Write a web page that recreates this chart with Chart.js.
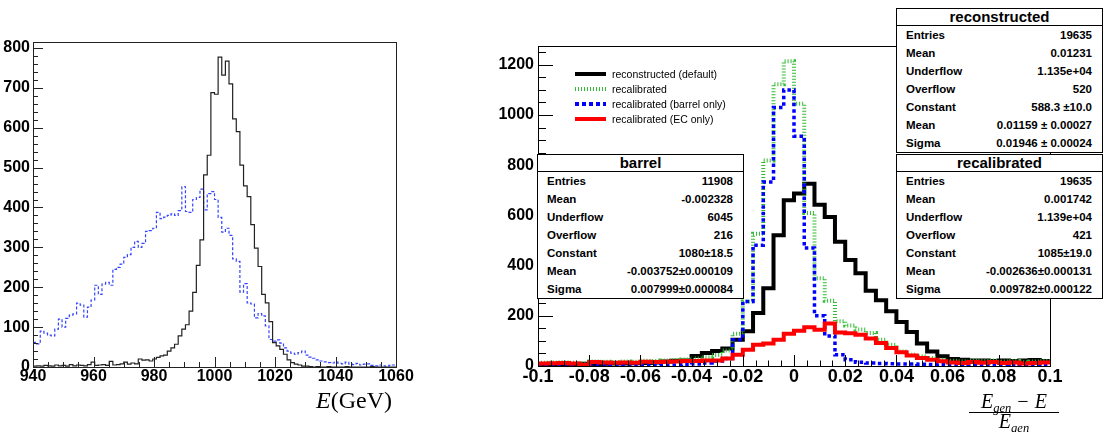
<!DOCTYPE html>
<html>
<head>
<meta charset="utf-8">
<script src="https://cdn.jsdelivr.net/npm/chart.js@4/dist/chart.umd.min.js"></script>
<style>
  html,body{margin:0;padding:0;background:#fff;}
  body{width:1104px;height:432px;position:relative;overflow:hidden;font-family:"Liberation Sans",Arial,sans-serif;}
  canvas{position:absolute;top:0;}
  .stat{position:absolute;background:#fff;border:1px solid #000;box-sizing:border-box;font-weight:bold;font-size:11.5px;color:#000;}
  .stat .hdr{height:16px;line-height:16px;text-align:center;font-size:15px;border-bottom:1px solid #000;}
  .stat .row{height:18px;line-height:18px;display:flex;justify-content:space-between;padding:0 10px 0 9px;white-space:pre;}
  .legend{position:absolute;left:575px;top:66px;font-size:10.5px;color:#000;}
  .legend .item{height:15.2px;display:flex;align-items:center;}
  .legend .sw{width:31px;height:4px;margin-right:6px;}
  .xtitleL{position:absolute;left:316px;top:387px;font-family:"Liberation Serif","DejaVu Serif",serif;font-size:24px;color:#000;white-space:nowrap;}
  .frac{position:absolute;left:966px;top:392px;width:96px;text-align:center;font-family:"Liberation Serif","DejaVu Serif",serif;font-style:italic;font-size:20px;color:#000;}
  .frac sub{font-size:12.5px;vertical-align:-4px;line-height:0;}
  .frac .num{line-height:18px;border-bottom:1px solid #000;padding-bottom:2px;margin:0 3px;}
  .frac .den{line-height:16px;}
</style>
</head>
<body>
<canvas id="cL" width="420" height="432" style="left:0px"></canvas>
<canvas id="cR" width="684" height="432" style="left:420px"></canvas>
<div id="overlay"></div>
<div class="xtitleL"><i>E</i>(GeV)</div>
<div class="frac"><div class="num">E<sub>gen</sub> − E</div><div class="den">E<sub>gen</sub></div></div>
<script>
// ---------------- LEFT PANEL DATA (E in GeV, 100 bins of 1.2 GeV from 940 to 1060) ----------------
const leftBinLow = 940;
const leftBinWidth = 1.2;
const leftReco = [
  2,3,2,4,3,2,5,3,4,2, 6,3,5,4,3,6,12,4,5,6,
  4,14,5,6,8,12,7,10,8,20, 17,18,15,20,24,28,30,40,48,57,
  78,95,106,140,187,255,319,482,531,688, 684,777,732,767,710,622,590,506,454,427,
  357,298,252,182,161,114,61,53,44,32, 18,11,7,5,2,2,1,0,1,0,
  0,1,0,0,0,0,1,0,0,0, 0,0,0,1,0,0,0,0,0,0
];
const leftRecal = [
  62,58,90,85,80,78,95,120,100,122, 130,133,160,155,125,150,168,205,182,208,
  212,205,245,250,258,275,282,300,315,300, 310,340,342,348,388,372,376,380,384,380,
  392,452,390,388,420,425,446,394,435,440, 420,375,338,348,330,271,265,188,209,161,
  158,123,134,128,103,69,65,68,60,48, 40,35,32,36,40,30,25,22,18,15,
  13,11,10,12,9,8,12,7,6,9, 5,7,8,4,3,5,3,2,4,5
];
const leftXTicks = [940, 960, 980, 1000, 1020, 1040, 1060];
const leftYTicks = [0, 100, 200, 300, 400, 500, 600, 700, 800];

// ---------------- RIGHT PANEL DATA ((Egen-E)/Egen, 50 bins of 0.004 from -0.1 to 0.1) ----------------
const rightBinLow = -0.1;
const rightBinWidth = 0.004;
const recoDefault = [
  6,7,8,7,9,8,9,10,10,11, 12,14,18,21,22,40,52,60,70,105,
  138,211,310,521,660,687,726,642,594,495, 422,370,300,262,218,175,135,90,58,39,
  28,25,22,22,20,22,20,22,24,20
];
const recalibrated = [
  13,14,15,13,11,18,17,16,18,17, 21,20,22,24,26,30,35,44,62,128,
  257,527,819,1123,1214,1045,610,350,260,178, 161,145,131,105,85,58,45,39,32,25,
  21,19,22,20,22,18,20,16,18,20
];
const recalBarrel = [
  2,2,3,2,2,3,3,2,3,3, 4,3,4,4,5,8,12,20,30,105,
  257,481,733,1030,1100,915,470,200,120,45, 25,15,12,10,9,8,8,7,6,7,
  6,6,5,6,5,5,6,5,5,6
];
const recalEC = [
  10,11,12,10,5,16,14,13,14,13, 17,16,17,18,20,20,22,22,30,45,
  65,85,90,105,128,140,154,144,169,133, 130,125,110,92,72,55,42,32,25,19,
  14,12,16,13,16,12,14,10,12,14
];
const rightXTicks = [-0.1, -0.08, -0.06, -0.04, -0.02, 0, 0.02, 0.04, 0.06, 0.08, 0.1];
const rightXLabels = ["-0.1", "-0.08", "-0.06", "-0.04", "-0.02", "0", "0.02", "0.04", "0.06", "0.08", "0.1"];
const rightYTicks = [0, 200, 400, 600, 800, 1000, 1200];
const seriesNames = ["reconstructed (default)", "recalibrated", "recalibrated (barrel only)", "recalibrated (EC only)"];

// ---------------- STAT BOXES ----------------
const statBarrel = {title: "barrel", rows: [
  ["Entries", "11908"], ["Mean", "-0.002328"], ["Underflow", "6045"], ["Overflow", "216"],
  ["Constant", "1080±18.5"], ["Mean", "-0.003752±0.000109"], ["Sigma", "0.007999±0.000084"]]};
const statReco = {title: "reconstructed", rows: [
  ["Entries", "19635"], ["Mean", "0.01231"], ["Underflow", "1.135e+04"], ["Overflow", "520"],
  ["Constant", "588.3 ±10.0"], ["Mean", "0.01159 ± 0.00027"], ["Sigma", "0.01946 ± 0.00024"]]};
const statRecal = {title: "recalibrated", rows: [
  ["Entries", "19635"], ["Mean", "0.001742"], ["Underflow", "1.139e+04"], ["Overflow", "421"],
  ["Constant", "1085±19.0"], ["Mean", "-0.002636±0.000131"], ["Sigma", "0.009782±0.000122"]]};

// ---------------- helpers ----------------
function histPoints(lo, w, counts) {
  const pts = counts.map((c, i) => ({x: lo + i * w, y: c}));
  pts.push({x: lo + counts.length * w, y: counts[counts.length - 1]});
  return pts;
}
function histDataset(label, lo, w, counts, color, width, dash, order) {
  return {label, data: histPoints(lo, w, counts), stepped: 'before', borderColor: color,
    backgroundColor: color, borderWidth: width, borderDash: dash, pointRadius: 0, fill: false,
    tension: 0, borderCapStyle: 'butt', borderJoinStyle: 'miter', order};
}

const rootAxes = {
  id: 'rootAxes',
  afterDatasetsDraw(chart, args, o) {
    const {ctx, chartArea: a, scales: {x, y}} = chart;
    ctx.save();
    ctx.strokeStyle = o.color; ctx.lineWidth = 1;
    ctx.strokeRect(Math.round(a.left) + 0.5, Math.round(a.top) + 0.5,
      Math.round(a.right - a.left), Math.round(a.bottom - a.top));
    ctx.beginPath();
    const nx = Math.round((x.max - x.min) / o.xMinor);
    for (let i = 0; i <= nx; i++) {
      const v = x.min + i * o.xMinor;
      const major = i % o.xPer === 0;
      const px = Math.round(x.getPixelForValue(v)) + 0.5;
      ctx.moveTo(px, a.bottom);
      ctx.lineTo(px, a.bottom - (major ? o.xMajorLen : o.xMinorLen));
    }
    const ny = Math.floor((y.max - y.min) / o.yMinor + 1e-9);
    for (let i = 0; i <= ny; i++) {
      const v = y.min + i * o.yMinor;
      const major = i % o.yPer === 0;
      const py = Math.round(y.getPixelForValue(v)) + 0.5;
      ctx.moveTo(a.left, py);
      ctx.lineTo(a.left + (major ? o.yMajorLen : o.yMinorLen), py);
    }
    ctx.stroke();
    ctx.restore();
  }
};

function axisOpts(min, max, ticksArr, fontSize, pad, labels, fitKey, fitVal) {
  return {
    type: 'linear', min, max,
    afterBuildTicks: s => { s.ticks = ticksArr.map(v => ({value: v})); },
    afterFit: s => { s[fitKey] = fitVal; },
    grid: {display: false, drawTicks: false},
    border: {display: false},
    ticks: {
      autoSkip: false, maxRotation: 0, padding: pad, color: '#000',
      font: {family: '"Liberation Sans", Arial, sans-serif', weight: 'bold', size: fontSize},
      callback: (v, i) => labels ? labels[i] : String(v)
    }
  };
}

// ---------------- LEFT CHART ----------------
new Chart(document.getElementById('cL'), {
  type: 'line',
  data: {datasets: [
    histDataset('reconstructed', leftBinLow, leftBinWidth, leftReco, '#222222', 1.2, [], 1),
    histDataset('recalibrated', leftBinLow, leftBinWidth, leftRecal, '#3344ff', 1.2, [3, 2], 2)
  ]},
  options: {
    responsive: false, animation: false, devicePixelRatio: 1,
    layout: {padding: {left: 0, top: 42, right: 24, bottom: 0}},
    plugins: {legend: {display: false}, tooltip: {enabled: false},
      rootAxes: {color: '#222', xMinor: 5, xPer: 4, xMajorLen: 10, xMinorLen: 5,
                 yMinor: 20, yPer: 5, yMajorLen: 10, yMinorLen: 5}},
    scales: {
      x: axisOpts(940, 1060, leftXTicks, 16, 0, null, 'height', 65),
      y: axisOpts(0, 815, leftYTicks, 16, 3, null, 'width', 33)
    }
  },
  plugins: [rootAxes]
});

// ---------------- RIGHT CHART ----------------
const rightColors = ['#000000', '#33bb33', '#0000ff', '#ff0000'];
const rightWidths = [4, 4, 3.5, 4];
const rightDashes = [[], [1, 2], [3.5, 3], []];
const rightData = [recoDefault, recalibrated, recalBarrel, recalEC];
const rightOrder = [4, 3, 2, 1];
new Chart(document.getElementById('cR'), {
  type: 'line',
  data: {datasets: rightData.map((d, i) =>
    histDataset(seriesNames[i], rightBinLow, rightBinWidth, d, rightColors[i], rightWidths[i], rightDashes[i], rightOrder[i]))},
  options: {
    responsive: false, animation: false, devicePixelRatio: 1,
    layout: {padding: {left: 0, top: 46, right: 54, bottom: 0}},
    plugins: {legend: {display: false}, tooltip: {enabled: false},
      rootAxes: {color: '#000', xMinor: 0.005, xPer: 4, xMajorLen: 11, xMinorLen: 5.5,
                 yMinor: 50, yPer: 4, yMajorLen: 15, yMinorLen: 8}},
    scales: {
      x: axisOpts(-0.1, 0.1, rightXTicks, 18, 0, rightXLabels, 'height', 66),
      y: axisOpts(0, 1275, rightYTicks, 16, 4, null, 'width', 118)
    }
  },
  plugins: [rootAxes]
});

// ---------------- HTML overlays: legend + stat boxes ----------------
const overlay = document.getElementById('overlay');
const swatchCss = [
  'background:#000',
  'background:repeating-linear-gradient(90deg,#33bb33 0 1px,transparent 1px 3px)',
  'background:repeating-linear-gradient(90deg,#0000ff 0 4px,transparent 4px 7px)',
  'background:#ff0000'
];
let lg = '<div class="legend">';
seriesNames.forEach((n, i) => {
  lg += '<div class="item"><div class="sw" style="' + swatchCss[i] + '"></div><span>' + n + '</span></div>';
});
lg += '</div>';
function statBox(s, left, top, width, height) {
  let h = '<div class="stat" style="left:' + left + 'px;top:' + top + 'px;width:' + width + 'px;height:' + height + 'px">';
  h += '<div class="hdr">' + s.title + '</div>';
  s.rows.forEach(r => { h += '<div class="row"><span>' + r[0] + '</span><span>' + r[1] + '</span></div>'; });
  return h + '</div>';
}
overlay.innerHTML = lg +
  statBox(statBarrel, 537, 154, 207, 145) +
  statBox(statReco, 896, 8, 207, 145) +
  statBox(statRecal, 896, 154, 207, 145);
</script>
</body>
</html>
